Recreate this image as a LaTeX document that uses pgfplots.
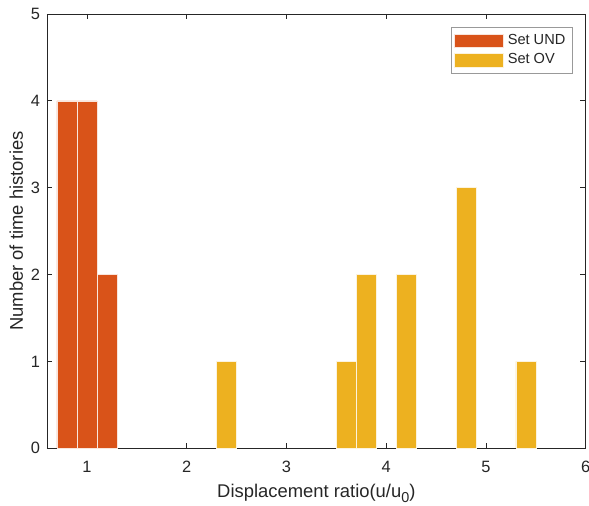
\documentclass[border=0pt]{standalone}
\usepackage{pgfplots}
\pgfplotsset{compat=1.18}
\usepackage{fontspec}
\setmainfont{Liberation Sans}
\definecolor{mred}{HTML}{D95319}
\definecolor{myel}{HTML}{EDB120}
\definecolor{axgray}{HTML}{262626}
\begin{document}
\begin{tikzpicture}
\begin{axis}[
  scale only axis,
  width=269.35pt, height=217.15pt,
  xmin=0.6, xmax=6, ymin=0, ymax=5,
  xtick={1,2,3,4,5,6}, ytick={0,1,2,3,4,5},
  ybar, bar width=0.2, bar shift=0pt,
  axis line style={axgray, line width=0.4pt},
  tick style={axgray, line width=0.4pt},
  tick align=inside, major tick length=2.75pt,
  xtick pos=both, ytick pos=both,
  ticklabel style={font=\fontsize{8.2}{10}\selectfont, text=axgray},
  xticklabel style={yshift=-2.8pt},
  /pgf/number format/assume math mode=true,
  xlabel={Displacement ratio(u/u\raisebox{-0.55ex}{\fontsize{7.2}{8}\selectfont 0})},
  ylabel={Number of time histories},
  label style={font=\fontsize{9.2}{11}\selectfont, text=axgray},
  xlabel style={yshift=1pt},
  ylabel style={yshift=-3pt},
  legend style={at={(0.976,0.970)}, anchor=north east, draw=gray!80, line width=0.4pt,
    font=\fontsize{7.3}{9}\selectfont, text=axgray, inner sep=1.5pt,
    row sep=-1pt, cells={anchor=west}},
  legend image code/.code={\fill[#1] (0pt,-3.3pt) rectangle (24.5pt,3.3pt);},
]
\addplot[fill=mred, draw=white!85!mred, line width=0.3pt] coordinates {(0.8,4) (1.0,4) (1.2,2)};
\addlegendentry{Set UND}
\addplot[fill=myel, draw=white!85!myel, line width=0.3pt] coordinates {(2.4,1) (3.6,1) (3.8,2) (4.2,2) (4.8,3) (5.4,1)};
\addlegendentry{Set OV}
\end{axis}
\pgfresetboundingbox
\useasboundingbox (-23.5pt,-28.85pt) rectangle (271pt,224.15pt);
\end{tikzpicture}
\end{document}
